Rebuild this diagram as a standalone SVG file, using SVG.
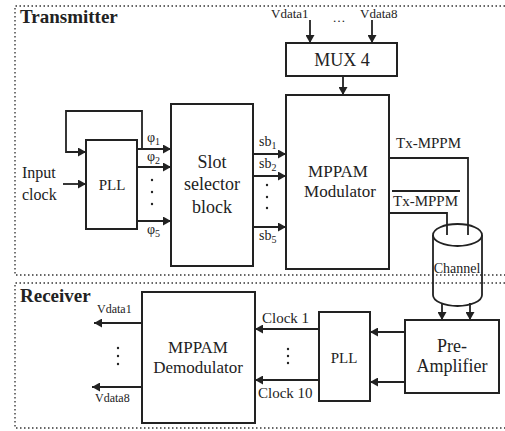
<svg xmlns="http://www.w3.org/2000/svg" width="505" height="431" viewBox="0 0 505 431" font-family="'Liberation Serif', 'DejaVu Serif', serif">
<defs>
<marker id="ah" markerUnits="userSpaceOnUse" markerWidth="9" markerHeight="9" refX="8" refY="4.5" orient="auto">
<path d="M0,0 L8,4.5 L0,9 z" fill="#222"/>
</marker>
<style>
text{font-family:'Liberation Serif','DejaVu Serif',serif;fill:#222}
.box{fill:#fff;stroke:#222;stroke-width:2}
.ln{fill:none;stroke:#222;stroke-width:1.8}
.ar{fill:none;stroke:#222;stroke-width:1.8;marker-end:url(#ah)}
.dot{fill:none;stroke:#666;stroke-width:1.8;stroke-dasharray:1.5 2.5}
.ttl{font-size:19px;font-weight:bold}
.m{text-anchor:middle}
</style>
</defs>
<g id="frames">
<path class="dot" d="M505,6 H15 V275 H505"/>
<path class="dot" d="M505,283 H15 V428 H505"/>
<text class="ttl" x="20" y="23">Transmitter</text>
<text class="ttl" x="20" y="302">Receiver</text>
</g>
<g id="connectors">
<path class="ar" d="M310,20 V43"/>
<path class="ar" d="M372,20 V43"/>
<path class="ar" d="M343,76 V95"/>
<path class="ar" d="M142,149 V111 H66 V152 H86"/>
<path class="ar" d="M63,184 H86"/>
<path class="ar" d="M137,149 H171"/>
<path class="ar" d="M137,167 H171"/>
<path class="ar" d="M137,221 H171"/>
<path class="ar" d="M253,154 H286"/>
<path class="ar" d="M253,176 H286"/>
<path class="ar" d="M253,227 H286"/>
<path class="ln" d="M389,158 H468 V235"/>
<path class="ln" d="M389,213 H447 V235"/>
<path class="ar" d="M442,303 V320"/>
<path class="ar" d="M470,303 V320"/>
<path class="ar" d="M405,332 H370"/>
<path class="ar" d="M405,382 H370"/>
<path class="ar" d="M319,329 H255"/>
<path class="ar" d="M319,380 H255"/>
<path class="ar" d="M142,323 H94"/>
<path class="ar" d="M142,387 H92"/>
</g>
<g id="labels">
<text x="271" y="18" font-size="13">Vdata1</text>
<text x="339" y="22" font-size="13" class="m">…</text>
<text x="360" y="18" font-size="13">Vdata8</text>
<text x="22" y="178" font-size="16">Input</text>
<text x="22" y="200" font-size="16">clock</text>
<text x="147" y="142" font-size="14">φ<tspan font-size="10" dy="3">1</tspan></text>
<text x="147" y="161" font-size="14">φ<tspan font-size="10" dy="3">2</tspan></text>
<text x="147" y="234" font-size="14">φ<tspan font-size="10" dy="3">5</tspan></text>
<g fill="#222"><circle cx="152" cy="180" r="1.2"/><circle cx="152" cy="192" r="1.2"/><circle cx="152" cy="204" r="1.2"/></g>
<text x="259" y="146" font-size="14">sb<tspan font-size="10" dy="3">1</tspan></text>
<text x="259" y="168" font-size="14">sb<tspan font-size="10" dy="3">2</tspan></text>
<text x="259" y="240" font-size="14">sb<tspan font-size="10" dy="3">5</tspan></text>
<g fill="#222"><circle cx="267" cy="185" r="1.2"/><circle cx="267" cy="197" r="1.2"/><circle cx="267" cy="208" r="1.2"/></g>
<text x="396" y="148" font-size="15">Tx-MPPM</text>
<text x="393" y="206" font-size="15">Tx-MPPM</text>
<path class="ln" d="M392,191 H460" stroke-width="1.3"/>
<text x="262" y="323" font-size="15">Clock 1</text>
<text x="258" y="398" font-size="15">Clock 10</text>
<g fill="#222"><circle cx="288" cy="349" r="1.2"/><circle cx="288" cy="356" r="1.2"/><circle cx="288" cy="363" r="1.2"/></g>
<text x="97" y="313" font-size="12">Vdata1</text>
<text x="95" y="402" font-size="12">Vdata8</text>
<g fill="#222"><circle cx="118" cy="348" r="1.2"/><circle cx="118" cy="356" r="1.2"/><circle cx="118" cy="364" r="1.2"/></g>
</g>
<g id="mux">
<rect class="box" x="286" y="43" width="111" height="33"/>
<text x="342" y="66" font-size="18" class="m">MUX 4</text>
</g>
<g id="pll-tx">
<rect class="box" x="86" y="140" width="51" height="89"/>
<text x="112" y="190" font-size="15" class="m">PLL</text>
</g>
<g id="slot">
<rect class="box" x="171" y="104" width="82" height="162"/>
<text x="212" y="168" font-size="18" class="m">Slot</text>
<text x="212" y="190" font-size="18" class="m">selector</text>
<text x="212" y="213" font-size="18" class="m">block</text>
</g>
<g id="modulator">
<rect class="box" x="286" y="95" width="103" height="174"/>
<text x="338" y="177" font-size="17" class="m">MPPAM</text>
<text x="340" y="197" font-size="17" class="m">Modulator</text>
</g>
<g id="channel">
<path class="ln" d="M433,235 V295 A24.5,11 0 0 0 482,295 V235"/>
<ellipse class="ln" cx="457.5" cy="235" rx="24.5" ry="11"/>
<text x="457" y="273" font-size="14" class="m">Channel</text>
</g>
<g id="preamp">
<rect class="box" x="405" y="320" width="94" height="73"/>
<text x="452" y="352" font-size="18" class="m">Pre-</text>
<text x="452" y="372" font-size="18" class="m">Amplifier</text>
</g>
<g id="pll-rx">
<rect class="box" x="319" y="312" width="51" height="89"/>
<text x="344" y="363" font-size="15" class="m">PLL</text>
</g>
<g id="demodulator">
<rect class="box" x="142" y="292" width="113" height="131"/>
<text x="198" y="353" font-size="17" class="m">MPPAM</text>
<text x="198" y="373" font-size="17" class="m">Demodulator</text>
</g>
</svg>
